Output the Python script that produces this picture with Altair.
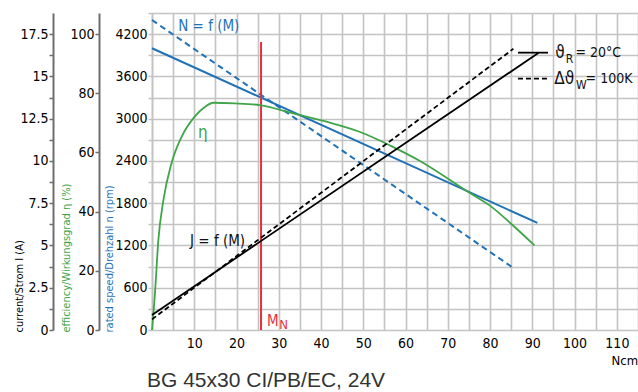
import altair as alt
import pandas as pd

# ---------------- data ----------------
speed_torque = [0, 91.2]
speed_rpm = [4000, 1520]
speed_hot_torque = [0, 85.4]
speed_hot_rpm = [4400, 885]

eff_torque = [0, 0.7, 1.5, 2.7, 4.6, 7.0, 10.1, 12.5, 14.5, 19.6, 25.5, 33.4,
              41.3, 49.1, 57.0, 63.3, 75.0, 79.8, 85.3, 90.5]
eff_pct = [0, 12.4, 30.4, 43.9, 56.3, 65.3, 72.1, 75.4, 76.8, 76.6, 76.0, 73.2,
           70.4, 67.0, 61.9, 57.2, 46.5, 42.2, 35.5, 28.6]

cur_torque = [0, 91.5]
cur_amp = [0.89, 16.4]
cur_hot_torque = [0, 85.5]
cur_hot_amp = [0.63, 16.63]

nominal_torque = [25.8]
nominal_rpm_top = [4090]

legend_torque = [86.6, 86.6]
legend_torque_end = [93.7, 93.7]
legend_rpm = [3937, 3567]

ann_text = ["N = f (M)", "η", "J = f (M)", "M", "N",
            "ϑ", "R", "= 20°C", "Δϑ", "W", "= 100K"]
ann_torque = [6.2, 10.9, 9.0, 27.2, 30.1,
              95.4, 97.9, 100.2, 95.2, 100.3, 102.6]
ann_rpm = [4320, 2800, 1265, 121, 71,
           3937, 3850, 3937, 3567, 3475, 3567]
ann_color = ["#1f72b8", "#3ea548", "#111111", "#e8303a", "#e8303a",
             "#111111", "#111111", "#111111", "#111111", "#111111", "#111111"]
ann_size = [15, 17, 15, 15, 13, 17, 12, 14, 17, 12, 14]

x_ticks = list(range(0, 120, 5))
rpm_ticks = list(range(0, 4501, 300))
eff_ticks = [0, 20, 40, 60, 80, 100]
cur_ticks = [i * 1.25 for i in range(0, 15)]

title_text = "BG 45x30 CI/PB/EC, 24V"

# ---------------- styling ----------------
FONT = "DejaVu Sans Condensed, sans-serif"
GRID = "#c3c3c3"
AXISC = "#6e6e6e"
BLUE = "#1f72b8"
GREEN = "#3ea548"
RED = "#e8303a"
TICKFS = 14
TITLEFS = 11

X = lambda f: alt.X(
    f, type="quantitative",
    scale=alt.Scale(domain=[0, 115], nice=False, zero=False),
    axis=alt.Axis(values=x_ticks,
                  labelExpr="datum.value % 10 == 0 && datum.value > 0 ? format(datum.value, 'd') : ''",
                  grid=True, gridColor=GRID, gridWidth=1.6,
                  domain=False, ticks=False, labelOverlap=False,
                  labelFont=FONT, labelFontSize=TICKFS, labelColor="black", labelPadding=6,
                  title="Ncm", titleFont=FONT, titleFontSize=13, titleFontWeight="normal",
                  titleColor="black", titleAlign="left", titleBaseline="middle",
                  titleX=459, titleY=30),
)

Y_RPM = alt.Y(
    "rpm:Q",
    scale=alt.Scale(domain=[0, 4500], nice=False, zero=False),
    axis=alt.Axis(orient="left", values=rpm_ticks,
                  labelExpr="datum.value % 600 == 0 && datum.value <= 4200 ? format(datum.value, 'd') : ''",
                  grid=True, gridColor=GRID, gridWidth=1.6,
                  domainColor=GRID, domainWidth=1.6, tickColor=GRID, tickSize=4, tickWidth=1.5,
                  labelOverlap=False, labelPadding=1,
                  labelFont=FONT, labelFontSize=TICKFS, labelColor="black",
                  title="rated speed/Drehzahl n (rpm)", titleFont=FONT, titleFontSize=TITLEFS,
                  titleFontWeight="normal", titleColor=BLUE, titleAngle=270,
                  titleAlign="left", titleBaseline="middle", titleX=-43, titleY=319),
)

Y_EFF = alt.Y(
    "eff:Q",
    scale=alt.Scale(domain=[0, 4500 / 4200 * 100], nice=False, zero=False),
    axis=alt.Axis(orient="left", offset=53, values=eff_ticks, grid=False,
                  domainColor=AXISC, domainWidth=2, tickColor=AXISC, tickSize=4, tickWidth=1.5,
                  labelOverlap=False, labelPadding=1,
                  labelFont=FONT, labelFontSize=TICKFS, labelColor="black",
                  title="efficiency/Wirkungsgrad η (%)", titleFont=FONT, titleFontSize=TITLEFS,
                  titleFontWeight="normal", titleColor=GREEN, titleAngle=270,
                  titleAlign="left", titleBaseline="middle", titleX=-33, titleY=319),
)

Y_CUR = alt.Y(
    "amp:Q",
    scale=alt.Scale(domain=[0, 18.75], nice=False, zero=False),
    axis=alt.Axis(orient="left", offset=99, values=cur_ticks,
                  labelExpr="datum.value % 2.5 == 0 ? format(datum.value, '~g') : ''",
                  grid=False,
                  domainColor=AXISC, domainWidth=2, tickColor=AXISC, tickSize=4, tickWidth=1.5,
                  labelOverlap=False, labelPadding=1,
                  labelFont=FONT, labelFontSize=TICKFS, labelColor="black",
                  title="current/Strom I (A)", titleFont=FONT, titleFontSize=TITLEFS,
                  titleFontWeight="normal", titleColor="black", titleAngle=270,
                  titleAlign="left", titleBaseline="middle", titleX=-34, titleY=319),
)

# ---------------- data frames ----------------
speed_df = pd.DataFrame({"torque": speed_torque, "rpm": speed_rpm})
speed_hot_df = pd.DataFrame({"torque": speed_hot_torque, "rpm": speed_hot_rpm})
eff_df = pd.DataFrame({"torque": eff_torque, "eff": eff_pct})
cur_df = pd.DataFrame({"torque": cur_torque, "amp": cur_amp})
cur_hot_df = pd.DataFrame({"torque": cur_hot_torque, "amp": cur_hot_amp})
nom_df = pd.DataFrame({"torque": nominal_torque, "rpm": [0], "rpm_end": nominal_rpm_top})
leg_df = pd.DataFrame({"torque": legend_torque, "torque_end": legend_torque_end,
                       "rpm": legend_rpm, "dash": ["solid", "dashed"]})
ann_df = pd.DataFrame({"torque": ann_torque, "rpm": ann_rpm, "text": ann_text,
                       "color": ann_color, "size": ann_size})

# ---------------- layers ----------------
speed_line = alt.Chart(speed_df).mark_line(color=BLUE, strokeWidth=2).encode(
    x=X("torque"), y=Y_RPM)
speed_hot_line = alt.Chart(speed_hot_df).mark_line(color=BLUE, strokeWidth=2, strokeDash=[6, 4]).encode(
    x=X("torque"), y=Y_RPM)
leg_solid = alt.Chart(leg_df).transform_filter("datum.dash == 'solid'").mark_rule(
    color="black", strokeWidth=1.8).encode(x=X("torque"), x2="torque_end:Q", y=Y_RPM)
leg_dashed = alt.Chart(leg_df).transform_filter("datum.dash == 'dashed'").mark_rule(
    color="black", strokeWidth=1.8, strokeDash=[5, 3]).encode(x=X("torque"), x2="torque_end:Q", y=Y_RPM)
ann = alt.Chart(ann_df).mark_text(align="left", baseline="middle", font=FONT).encode(
    x=X("torque"), y=Y_RPM, text="text:N",
    color=alt.Color("color:N", scale=None), size=alt.Size("size:Q", scale=None))
nom_rule = alt.Chart(nom_df).mark_rule(color=RED, strokeWidth=2).encode(
    x=X("torque"), y=Y_RPM, y2="rpm_end:Q")

speed_layer = alt.layer(speed_line, speed_hot_line, leg_solid, leg_dashed, ann, nom_rule)

eff_layer = alt.Chart(eff_df).mark_line(color=GREEN, strokeWidth=1.8, interpolate="monotone").encode(
    x=X("torque"), y=Y_EFF)

cur_layer = alt.layer(
    alt.Chart(cur_df).mark_line(color="black", strokeWidth=1.8).encode(x=X("torque"), y=Y_CUR),
    alt.Chart(cur_hot_df).mark_line(color="black", strokeWidth=1.8, strokeDash=[5, 3]).encode(
        x=X("torque"), y=Y_CUR),
)

chart = alt.layer(speed_layer, eff_layer, cur_layer).resolve_scale(
    y="independent").resolve_axis(y="independent").properties(
    width=486, height=317,
    padding={"left": 152, "top": 13, "right": 0, "bottom": 62},
    autosize=alt.AutoSizeParams(type="none"),
    title=alt.TitleParams(title_text, orient="bottom", anchor="start", frame="group",
                          font="Liberation Sans, Arial, sans-serif", fontSize=21,
                          fontWeight="normal", color="#333333", dx=-5, offset=3),
    background="white",
).configure_view(stroke=None)

chart.save("out.html", embed_options={"renderer": "svg", "actions": False})
